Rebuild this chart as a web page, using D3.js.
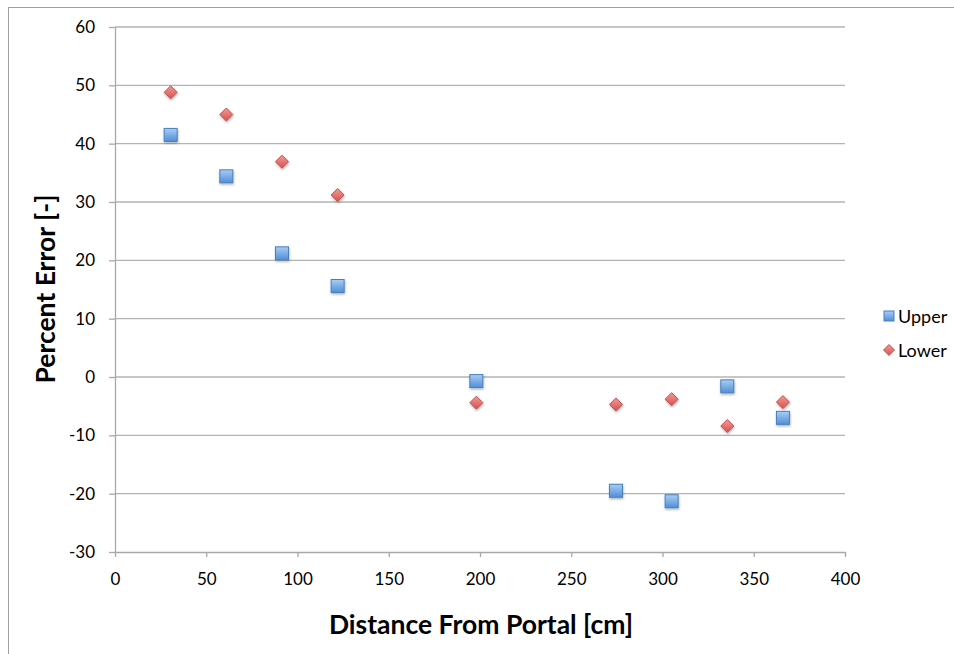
<!DOCTYPE html>
<html><head><meta charset="utf-8">
<script src="https://cdn.jsdelivr.net/npm/d3@7"></script>
<style>body{margin:0;background:#fff}svg{display:block}</style>
</head><body><svg id="c" width="954" height="654"></svg>
<script>
const xValues = [30.5, 61, 91.5, 122, 198, 274.5, 305, 335.5, 366];
const upperValues = [41.5, 34.4, 21.2, 15.6, -0.7, -19.5, -21.3, -1.6, -7.0];
const lowerValues = [48.8, 45.0, 36.9, 31.2, -4.4, -4.7, -3.8, -8.4, -4.3];
const xTicks = [0, 50, 100, 150, 200, 250, 300, 350, 400];
const yTicks = [-30, -20, -10, 0, 10, 20, 30, 40, 50, 60];
const seriesNames = ["Upper", "Lower"];

const svg = d3.select("#c");
const font = "Lato, Open Sans, sans-serif";
const defs = svg.append("defs");
const gb = defs.append("linearGradient").attr("id","gb").attr("x1",0).attr("y1",0).attr("x2",0).attr("y2",1);
gb.append("stop").attr("offset","0%").attr("stop-color","#a9cdf5");
gb.append("stop").attr("offset","100%").attr("stop-color","#4f8fd9");
const gr = defs.append("linearGradient").attr("id","gr").attr("x1",0).attr("y1",0).attr("x2",0).attr("y2",1);
gr.append("stop").attr("offset","0%").attr("stop-color","#f09a98");
gr.append("stop").attr("offset","100%").attr("stop-color","#d9514e");
const sh = defs.append("filter").attr("id","sh").attr("x","-50%").attr("y","-50%").attr("width","200%").attr("height","200%");
sh.append("feDropShadow").attr("dx",0.5).attr("dy",1.5).attr("stdDeviation",1).attr("flood-color","#000").attr("flood-opacity",0.3);

// outer border
svg.append("rect").attr("x",8.5).attr("y",7.5).attr("width",960).attr("height",660)
  .attr("fill","none").attr("stroke","#a0a0a0").attr("stroke-width",1);

const x = d3.scaleLinear().domain([0,400]).range([115,845]);
const y = d3.scaleLinear().domain([-30,60]).range([552,27]);

// gridlines
svg.append("g").selectAll("line").data(yTicks.filter(d=>d>-30)).join("line")
  .attr("x1",x(0)).attr("x2",x(400)).attr("y1",d=>y(d)).attr("y2",d=>y(d))
  .attr("stroke","#b3b3b3").attr("stroke-width",1.3);

// y axis
const ya = svg.append("g").attr("transform",`translate(${x(0)},0)`)
  .call(d3.axisLeft(y).tickValues(yTicks).tickFormat(d=>String(d)).tickSize(6).tickPadding(14).tickSizeOuter(0));
ya.select(".domain").attr("stroke","#a8a8a8").attr("stroke-width",1.3);
ya.selectAll(".tick line").attr("stroke","#a8a8a8").attr("stroke-width",1.3);
ya.selectAll("text").attr("font-family",font).attr("font-size",17).attr("fill","#000");

// x axis
const xa = svg.append("g").attr("transform",`translate(0,${y(-30)})`)
  .call(d3.axisBottom(x).tickValues(xTicks).tickFormat(d=>String(d)).tickSize(5).tickPadding(16).tickSizeOuter(0));
xa.select(".domain").attr("stroke","#a8a8a8").attr("stroke-width",1.3);
xa.selectAll(".tick line").attr("stroke","#a8a8a8").attr("stroke-width",1.3);
xa.selectAll("text").attr("font-family",font).attr("font-size",17).attr("fill","#000");

// titles
svg.append("text").attr("x",481).attr("y",634).attr("text-anchor","middle")
  .attr("font-family",font).attr("font-weight","bold").attr("font-size",26.5).text("Distance From Portal [cm]");
svg.append("text").attr("transform",`translate(55,289) rotate(-90)`).attr("text-anchor","middle")
  .attr("font-family",font).attr("font-weight","bold").attr("font-size",26.5).text("Percent Error [-]");

const diamond = s => `M0,${-s}L${s},0L0,${s}L${-s},0Z`;

// Lower (diamonds)
svg.append("g").selectAll("path").data(xValues.map((d,i)=>[d,lowerValues[i]])).join("path")
  .attr("d",diamond(6.5)).attr("transform",d=>`translate(${x(d[0])},${y(d[1])})`)
  .attr("fill","url(#gr)").attr("stroke","#c0504d").attr("stroke-width",1).attr("filter","url(#sh)");
// Upper (squares)
svg.append("g").selectAll("rect").data(xValues.map((d,i)=>[d,upperValues[i]])).join("rect")
  .attr("x",d=>x(d[0])-6.5).attr("y",d=>y(d[1])-6.5).attr("width",13).attr("height",13)
  .attr("fill","url(#gb)").attr("stroke","#4a7ebb").attr("stroke-width",1).attr("filter","url(#sh)");

// legend
const lg = svg.append("g");
lg.append("rect").attr("x",884).attr("y",311).attr("width",10).attr("height",10)
  .attr("fill","url(#gb)").attr("stroke","#4a7ebb").attr("stroke-width",1);
lg.append("path").attr("d",diamond(5.5)).attr("transform","translate(889,350)")
  .attr("fill","url(#gr)").attr("stroke","#c0504d").attr("stroke-width",1);
lg.selectAll("text").data(seriesNames).join("text")
  .attr("x",898).attr("y",(d,i)=>323+i*34)
  .attr("font-family",font).attr("font-size",18).text(d=>d);
</script></body></html>
